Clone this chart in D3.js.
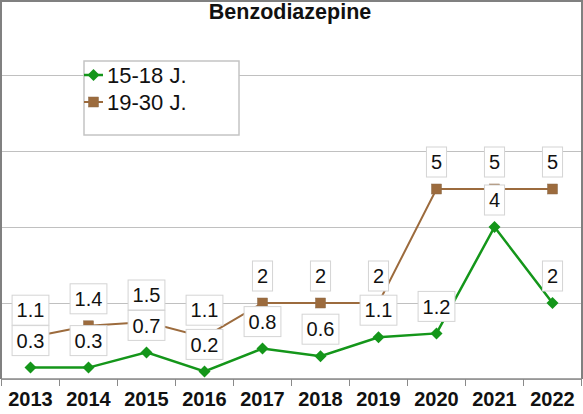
<!DOCTYPE html>
<head>
<meta charset="utf-8">
</head>
<style type="text/css">
  body { margin: 0; background: #fff; }
  svg { display: block; font-family: "Liberation Sans", Arial, sans-serif; }
  .grid line { stroke: #c0c0c0; stroke-width: 1; }
  .grid path.domain { display: none; }
  .xaxis path.domain { display: none; }
  .xaxis text { font-size: 20px; font-weight: bold; fill: #111; }
  .lbl rect { fill: #fff; stroke: #d4d4d4; stroke-width: 1; }
  .lbl text { font-size: 20px; fill: #111; }
</style>
<body>
<div id="chart"></div>
</body>
<script src="https://d3js.org/d3.v7.min.js"></script>
<script>

var years = ["2013","2014","2015","2016","2017","2018","2019","2020","2021","2022"];
var teen = [0.3, 0.3, 0.7, 0.2, 0.8, 0.6, 1.1, 1.2, 4, 2];     // 15-18 J.
var young = [1.1, 1.4, 1.5, 1.1, 2, 2, 2, 5, 5, 5];           // 19-30 J.
var yTicks = [0, 2, 4, 6, 8, 10];

var W = 583, H = 414;

var svg = d3.select("#chart").append("svg")
    .attr("width", W)
    .attr("height", H);

var x = d3.scaleBand().domain(years).range([1.5, 581.5]);
var y = d3.scaleLinear().domain([0, 10]).range([379, -1]);
var cx = function(d, i) { return x(years[i]) + x.bandwidth() / 2; };

// gridlines
svg.append("g")
    .attr("class", "grid")
    .attr("transform", "translate(1.5,0)")
    .call(d3.axisLeft(y).tickValues(yTicks).tickSize(-580).tickFormat(""));

// tick marks at band edges
svg.append("g").selectAll("line")
    .data(years.concat(["end"]))
    .enter().append("line")
    .attr("x1", function(d, i) { return 1.5 + i * x.bandwidth(); })
    .attr("x2", function(d, i) { return 1.5 + i * x.bandwidth(); })
    .attr("y1", y(0)).attr("y2", y(0) + 7)
    .attr("stroke", "#8a8a8a").attr("stroke-width", 1);

svg.append("g")
    .attr("class", "xaxis")
    .attr("transform", "translate(0," + y(0) + ")")
    .call(d3.axisBottom(x).tickSize(0).tickPadding(13))
    .selectAll("text").attr("dy", "0.71em");

var series = [
    {name: "19-30 J.", values: young, color: "#9c6b3d", width: 2, shape: "square"},
    {name: "15-18 J.", values: teen, color: "#14961a", width: 2.5, shape: "diamond"}
];

var line = d3.line()
    .x(function(d, i) { return cx(d, i); })
    .y(function(d) { return y(d); });

function marker(g, s) {
    if (s.shape == "diamond") {
        g.append("path")
            .attr("d", "M0,-6L6,0L0,6L-6,0Z")
            .attr("fill", s.color);
    } else {
        g.append("rect")
            .attr("x", -5).attr("y", -5).attr("width", 10).attr("height", 10)
            .attr("fill", s.color).attr("stroke", "#8a6a4a").attr("stroke-width", 0.5);
    }
}

series.forEach(function(s) {
    svg.append("path")
        .attr("d", line(s.values))
        .attr("fill", "none")
        .attr("stroke", s.color)
        .attr("stroke-width", s.width);

    s.values.forEach(function(v, i) {
        var g = svg.append("g").attr("transform", "translate(" + cx(v, i) + "," + y(v) + ")");
        marker(g, s);
    });
});

// data labels (brown first, green on top)
series.forEach(function(s) {
    s.values.forEach(function(v, i) {
        var g = svg.append("g")
            .attr("class", "lbl")
            .attr("transform", "translate(" + cx(v, i) + "," + (y(v) - 27) + ")");
        var r = g.append("rect");
        var t = g.append("text")
            .attr("text-anchor", "middle")
            .attr("dy", "0.36em")
            .text(v);
        var bw = t.node().getComputedTextLength() + 9;
        r.attr("x", -bw / 2).attr("y", -15).attr("width", bw).attr("height", 30);
    });
});

// title
svg.append("text")
    .attr("x", 290)
    .attr("y", 19)
    .attr("text-anchor", "middle")
    .style("font-size", "21.5px")
    .style("font-weight", "bold")
    .attr("fill", "#111")
    .text("Benzodiazepine");

// legend
var legend = svg.append("g").attr("transform", "translate(84,61)");
legend.append("rect")
    .attr("width", 155).attr("height", 74)
    .attr("fill", "#fff").attr("stroke", "#c4c4c4").attr("stroke-width", 1.5);

[series[1], series[0]].forEach(function(s, i) {
    var row = legend.append("g").attr("transform", "translate(0," + (14 + i * 27) + ")");
    row.append("line")
        .attr("x1", 0).attr("x2", 19)
        .attr("stroke", s.color).attr("stroke-width", s.width);
    var m = row.append("g").attr("transform", "translate(9.5,0)");
    marker(m, s);
    row.append("text")
        .attr("x", 23)
        .attr("dy", "0.36em")
        .style("font-size", "22px")
        .attr("fill", "#111")
        .text(s.name);
});

// plot area frame (top, left, right) and x axis line
svg.append("path")
    .attr("d", "M1," + y(0) + "V1H582V" + y(0))
    .attr("fill", "none")
    .attr("stroke", "#808080")
    .attr("stroke-width", 2);

svg.append("line")
    .attr("x1", 1).attr("x2", 582)
    .attr("y1", y(0)).attr("y2", y(0))
    .attr("stroke", "#8a8a8a").attr("stroke-width", 1.5);

</script>
